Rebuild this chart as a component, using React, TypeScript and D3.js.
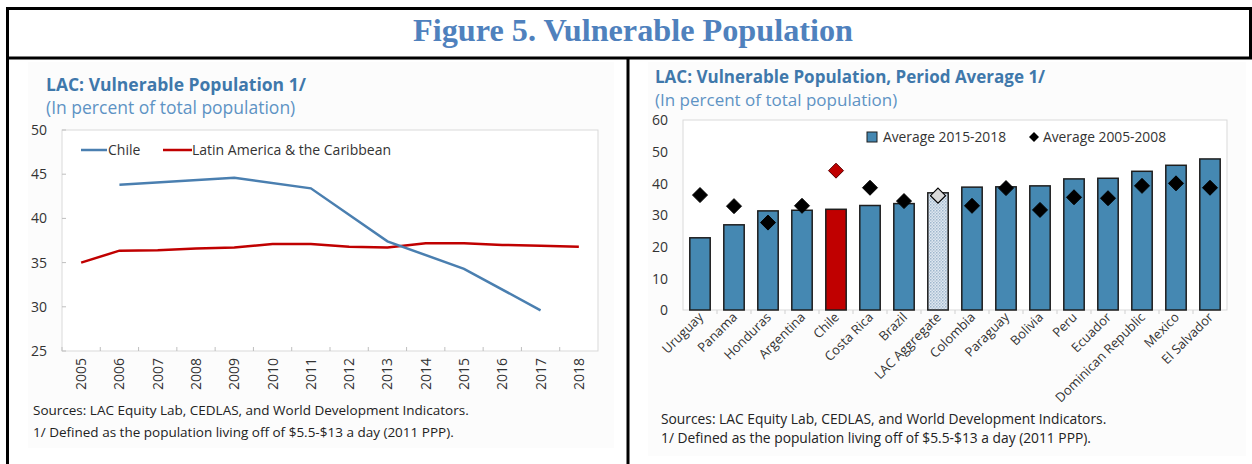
import React from "react";
import * as d3 from "d3";

const years = [2005, 2006, 2007, 2008, 2009, 2010, 2011, 2012, 2013, 2014, 2015, 2016, 2017, 2018];
const chileSeries: (number | null)[] = [null, 43.8, null, null, 44.6, null, 43.4, null, 37.4, null, 34.3, null, 29.6, null];
const lacSeries: number[] = [35.0, 36.35, 36.4, 36.6, 36.7, 37.1, 37.1, 36.8, 36.7, 37.2, 37.2, 37.0, 36.9, 36.8];
const leftTicks = [25, 30, 35, 40, 45, 50];

const countries = [
  "Uruguay", "Panama", "Honduras", "Argentina", "Chile", "Costa Rica", "Brazil", "LAC Aggregate",
  "Colombia", "Paraguay", "Bolivia", "Peru", "Ecuador", "Dominican Republic", "Mexico", "El Salvador",
];
const avg2015_2018 = [22.8, 26.9, 31.3, 31.5, 31.8, 33.0, 33.6, 37.0, 38.8, 38.9, 39.2, 41.4, 41.6, 43.8, 45.7, 47.7];
const avg2005_2008 = [36.3, 32.8, 27.6, 32.9, 44.0, 38.6, 34.4, 36.1, 32.9, 38.5, 31.6, 35.6, 35.3, 39.2, 40.0, 38.6];
const rightTicks = [0, 10, 20, 30, 40, 50, 60];

const SANS = "'Open Sans', 'Noto Sans', sans-serif";
const TITLE_BLUE = "#3f78ab";
const SUB_BLUE = "#5e93c4";
const TEXT = "#333333";
const BAR = "#4588b2";
const RED = "#c00000";

export default function App() {
  // Left chart scales
  const xl = d3.scaleBand<number>().domain(years).range([62, 598]);
  const yl = d3.scaleLinear().domain([25, 50]).range([351, 130]);
  const cx = (yr: number) => (xl(yr) as number) + xl.bandwidth() / 2;
  const line = d3
    .line<[number, number]>()
    .x((d) => cx(d[0]))
    .y((d) => yl(d[1]));
  const chilePts = years
    .map((yr, i) => [yr, chileSeries[i]] as [number, number | null])
    .filter((d) => d[1] !== null) as [number, number][];
  const lacPts = years.map((yr, i) => [yr, lacSeries[i]] as [number, number]);

  // Right chart scales
  const xr = d3.scaleBand<string>().domain(countries).range([683, 1227]).paddingInner(0.4).paddingOuter(0.2);
  const yr = d3.scaleLinear().domain([0, 60]).range([310, 120]);
  const step = xr.step();

  const diamond = (x: number, y: number, r: number) =>
    `M${x},${y - r}L${x + r},${y}L${x},${y + r}L${x - r},${y}Z`;

  return (
    <svg width={1252} height={464} style={{ position: "absolute", left: 0, top: 0, background: "#fff" }}>
      <defs>
        <pattern id="dots" width="3" height="3" patternUnits="userSpaceOnUse">
          <rect width="3" height="3" fill="#dfe8f1" />
          <rect width="1.5" height="1.5" fill="#9fb6cc" />
          <rect x="1.5" y="1.5" width="1.5" height="1.5" fill="#b7c8d9" />
        </pattern>
      </defs>

      {/* faint panel backgrounds */}
      <rect x={28} y={62} width={586} height={386} fill="#fcfcfc" />
      <rect x={648} y={62} width={598} height={394} fill="#fcfcfc" />

      {/* Frame */}
      <line x1={7.5} y1={8.5} x2={1252} y2={8.5} stroke="#000" strokeWidth={3} />
      <line x1={7.5} y1={7} x2={7.5} y2={464} stroke="#000" strokeWidth={3} />
      <line x1={7.5} y1={58} x2={1252} y2={58} stroke="#000" strokeWidth={3} />
      <line x1={628} y1={58} x2={628} y2={464} stroke="#000" strokeWidth={3} />
      <line x1={1250.5} y1={7} x2={1250.5} y2={58} stroke="#000" strokeWidth={3} />

      <text
        x={633}
        y={41}
        textAnchor="middle"
        fontFamily="'Liberation Serif', 'Times New Roman', serif"
        fontWeight="bold"
        fontSize={31}
        fill="#4f81bd"
        textLength={440}
        lengthAdjust="spacingAndGlyphs"
      >
        Figure 5. Vulnerable Population
      </text>

      {/* ===== Left chart ===== */}
      <g fontFamily={SANS}>
        <text x={46} y={91} fontSize={17.5} fontWeight="bold" fill={TITLE_BLUE}>
          LAC: Vulnerable Population 1/
        </text>
        <text x={46} y={114} fontSize={17.5} fill={SUB_BLUE}>
          (In percent of total population)
        </text>
        <rect x={62} y={130} width={536} height={221} fill="#fff" stroke="#d9d9d9" strokeWidth={1} />
        {leftTicks.map((t) => (
          <g key={t}>
            <line x1={62} x2={66} y1={yl(t)} y2={yl(t)} stroke="#bfbfbf" />
            <text x={47} y={yl(t)} dy="0.35em" textAnchor="end" fontSize={14} fill={TEXT}>
              {t}
            </text>
          </g>
        ))}
        {years.map((yy) => (
          <g key={yy}>
            <line x1={xl(yy) as number} x2={xl(yy) as number} y1={351} y2={347} stroke="#bfbfbf" />
            <text
              transform={`translate(${cx(yy) + 5},${358}) rotate(-90)`}
              textAnchor="end"
              fontSize={14}
              fill={TEXT}
            >
              {yy}
            </text>
          </g>
        ))}
        <path d={line(lacPts) || ""} fill="none" stroke={RED} strokeWidth={2.5} />
        <path d={line(chilePts) || ""} fill="none" stroke="#4a7fb0" strokeWidth={2.5} />
        {/* legend */}
        <line x1={81} x2={107} y1={150} y2={150} stroke="#4a7fb0" strokeWidth={2.5} />
        <text x={108} y={150} dy="0.35em" fontSize={14} fill={TEXT}>
          Chile
        </text>
        <line x1={163} x2={192} y1={150} y2={150} stroke={RED} strokeWidth={2.5} />
        <text x={192} y={150} dy="0.35em" fontSize={14} fill={TEXT}>
          Latin America &amp; the Caribbean
        </text>
        <text x={33} y={415} fontSize={13.5} fill="#222">
          Sources: LAC Equity Lab, CEDLAS, and World Development Indicators.
        </text>
        <text x={33} y={437} fontSize={13.5} fill="#222">
          1/ Defined as the population living off of $5.5-$13 a day (2011 PPP).
        </text>
      </g>

      {/* ===== Right chart ===== */}
      <g fontFamily={SANS}>
        <text x={655} y={83} fontSize={17} fontWeight="bold" fill={TITLE_BLUE}>
          LAC: Vulnerable Population, Period Average 1/
        </text>
        <text x={655} y={106} fontSize={17} fill={SUB_BLUE}>
          (In percent of total population)
        </text>
        <rect x={683} y={120} width={544} height={190} fill="#fff" stroke="#d9d9d9" strokeWidth={1} />
        {rightTicks.map((t) => (
          <text key={t} x={668} y={yr(t)} dy="0.38em" textAnchor="end" fontSize={14} fill={TEXT}>
            {t}
          </text>
        ))}
        {countries.map((c, i) =>
          i > 0 ? (
            <line
              key={"tk" + c}
              x1={(xr(c) as number) - (step - xr.bandwidth()) / 2}
              x2={(xr(c) as number) - (step - xr.bandwidth()) / 2}
              y1={310}
              y2={314}
              stroke="#d0d0d0"
            />
          ) : null
        )}
        {countries.map((c, i) => {
          const fill = c === "Chile" ? RED : c === "LAC Aggregate" ? "url(#dots)" : BAR;
          return (
            <rect
              key={"b" + c}
              x={xr(c) as number}
              y={yr(avg2015_2018[i])}
              width={xr.bandwidth()}
              height={yr(0) - yr(avg2015_2018[i])}
              fill={fill}
              stroke="#1e1e1e"
              strokeWidth={1.5}
            />
          );
        })}
        {countries.map((c, i) => {
          const x = (xr(c) as number) + xr.bandwidth() / 2;
          const fill = c === "Chile" ? RED : c === "LAC Aggregate" ? "#d9d9d9" : "#000";
          const stroke = c === "Chile" ? "#5a0000" : "#000";
          return (
            <path
              key={"d" + c}
              d={diamond(x, yr(avg2005_2008[i]), 7.5)}
              fill={fill}
              stroke={stroke}
              strokeWidth={c === "LAC Aggregate" ? 1.2 : 1}
            />
          );
        })}
        {countries.map((c) => {
          const x = (xr(c) as number) + xr.bandwidth() / 2;
          return (
            <text
              key={"l" + c}
              transform={`translate(${x + 4},${318}) rotate(-45)`}
              textAnchor="end"
              fontSize={13}
              fill={TEXT}
            >
              {c}
            </text>
          );
        })}
        {/* legend */}
        <rect x={867} y={132} width={10} height={10} fill={BAR} stroke="#1e1e1e" strokeWidth={1} />
        <text x={883} y={137} dy="0.35em" fontSize={13.8} fill={TEXT}>
          Average 2015-2018
        </text>
        <path d={diamond(1034, 137, 5)} fill="#000" />
        <text x={1043} y={137} dy="0.35em" fontSize={13.8} fill={TEXT}>
          Average 2005-2008
        </text>
        <text x={661} y={424} fontSize={13.8} fill="#222">
          Sources: LAC Equity Lab, CEDLAS, and World Development Indicators.
        </text>
        <text x={661} y={443} fontSize={13.8} fill="#222">
          1/ Defined as the population living off of $5.5-$13 a day (2011 PPP).
        </text>
      </g>
    </svg>
  );
}
